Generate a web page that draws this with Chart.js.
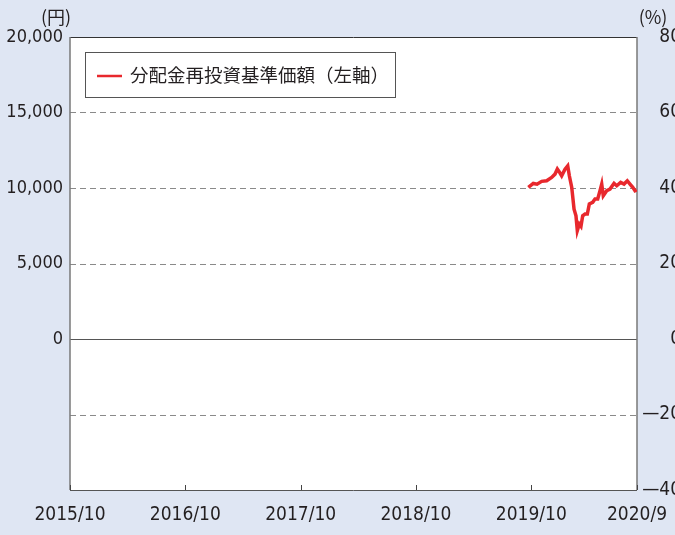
<!DOCTYPE html>
<html>
<head>
<meta charset="utf-8">
<script src="https://cdn.jsdelivr.net/npm/chart.js@4.4.1/dist/chart.umd.min.js"></script>
<style>
  html, body { margin: 0; padding: 0; overflow: hidden; background: #dfe6f3; }
  #wrap { width: 681px; height: 535px; }
</style>
</head>
<body>
<div id="wrap"><canvas id="navChart" width="681" height="535"></canvas></div>
<script>
// months counted from 2015/10 (0) to 2020/9 (59)
const tickMonths = [0, 12, 24, 36, 48, 59];
const tickLabels = ["2015/10", "2016/10", "2017/10", "2018/10", "2019/10", "2020/9"];

// 分配金再投資基準価額 (円)
const navMonths = [
  47.69, 48.21, 48.6, 49.08, 49.6, 50.12, 50.47, 50.71, 50.99, 51.16, 51.51,
  51.79, 51.96, 52.21, 52.45, 52.65, 52.79, 53.0, 53.17, 53.35, 53.59, 53.83,
  54.04, 54.39, 54.63, 54.91, 55.15, 55.33, 55.49, 55.85, 56.19, 56.61, 56.89,
  57.3, 57.65, 57.99, 58.27, 58.56, 58.79, 58.97,
];
const navValues = [
  10040, 10300, 10250, 10440, 10480, 10700, 10920, 11250, 10990, 10810, 11250,
  11470, 10810, 10040, 8600, 8160, 7170, 7610, 7460, 8160, 8275, 8275,
  8940, 9050, 9270, 9270, 9820, 10260, 9490, 9820, 9930, 10310, 10150,
  10370, 10260, 10480, 10260, 10040, 9820, 9880,
];

const leftTicks = [20000, 15000, 10000, 5000, 0, -5000, -10000];
const rightTickLabels = { 80: "80", 60: "60", 40: "40", 20: "20", 0: "0", "-20": "—20", "-40": "—40" };

const fontNum = "'DejaVu Sans Condensed', 'DejaVu Sans', sans-serif";
const fontJp = "'Noto Sans CJK JP', sans-serif";
const textColor = "#231f20";

// plot frame, grid lines and inner ticks
const framePlugin = {
  id: "frame",
  beforeDraw(chart) {
    const { ctx, chartArea: a } = chart;
    ctx.save();
    ctx.fillStyle = "#dfe6f3";
    ctx.fillRect(0, 0, chart.width, chart.height);
    ctx.fillStyle = "#ffffff";
    ctx.fillRect(a.left, a.top, a.right - a.left, a.bottom - a.top);
    ctx.restore();
  },
  beforeDatasetsDraw(chart) {
    const { ctx, chartArea: a, scales } = chart;
    const y = scales.y;
    const x = scales.x;
    ctx.save();
    leftTicks.forEach((v) => {
      if (v === 20000 || v === -10000) return;
      const py = Math.round(y.getPixelForValue(v)) + 0.5;
      ctx.beginPath();
      if (v === 0) {
        ctx.strokeStyle = "#555";
        ctx.lineWidth = 1.2;
        ctx.setLineDash([]);
      } else {
        ctx.strokeStyle = "#8a8a8a";
        ctx.lineWidth = 1;
        ctx.setLineDash([6, 4]);
      }
      ctx.moveTo(a.left, py);
      ctx.lineTo(a.right, py);
      ctx.stroke();
    });
    ctx.setLineDash([]);
    // frame
    ctx.lineWidth = 1;
    ctx.strokeStyle = "#333";
    ctx.beginPath();
    ctx.moveTo(a.left, a.top + 0.5);
    ctx.lineTo(a.right, a.top + 0.5);
    ctx.stroke();
    ctx.strokeStyle = "#555";
    ctx.beginPath();
    ctx.moveTo(a.left, a.bottom + 0.5);
    ctx.lineTo(a.right, a.bottom + 0.5);
    ctx.stroke();
    ctx.strokeStyle = "#7a7a7a";
    ctx.lineWidth = 1.5;
    ctx.beginPath();
    ctx.moveTo(a.left, a.top);
    ctx.lineTo(a.left, a.bottom);
    ctx.moveTo(a.right, a.top);
    ctx.lineTo(a.right, a.bottom);
    ctx.stroke();
    // inner ticks on the time axis
    ctx.lineWidth = 1;
    ctx.strokeStyle = "#444";
    tickMonths.forEach((m) => {
      const px = Math.round(x.getPixelForValue(m)) + 0.5;
      ctx.beginPath();
      ctx.moveTo(px, a.bottom);
      ctx.lineTo(px, a.bottom - 5);
      ctx.stroke();
    });
    ctx.restore();
  },
  afterDraw(chart) {
    const { ctx, chartArea: a } = chart;
    ctx.save();
    ctx.fillStyle = textColor;
    ctx.font = "18px " + fontJp;
    ctx.textBaseline = "middle";
    ctx.textAlign = "center";
    ctx.fillText("(円)", a.left - 14, 17);
    ctx.fillText("(%)", a.right + 16, 17);

    // legend box
    const ds = chart.data.datasets[0];
    const bx = a.left + 15, by = a.top + 15;
    ctx.fillStyle = "#ffffff";
    ctx.fillRect(bx, by, 310, 45);
    ctx.strokeStyle = "#555";
    ctx.lineWidth = 1;
    ctx.strokeRect(bx + 0.5, by + 0.5, 310, 45);
    ctx.strokeStyle = ds.borderColor;
    ctx.lineWidth = 2.5;
    ctx.beginPath();
    ctx.moveTo(bx + 12, by + 24);
    ctx.lineTo(bx + 37, by + 24);
    ctx.stroke();
    ctx.fillStyle = textColor;
    ctx.textAlign = "left";
    ctx.font = "18.5px " + fontJp;
    ctx.fillText(ds.label, bx + 45, by + 23);
    ctx.restore();
  },
};

const navChart = new Chart(document.getElementById("navChart"), {
  type: "line",
  data: {
    datasets: [
      {
        label: "分配金再投資基準価額（左軸）",
        data: navMonths.map((m, i) => ({ x: m, y: navValues[i] })),
        borderColor: "#e8282d",
        borderWidth: 3.5,
        pointRadius: 0,
        tension: 0,
        fill: false,
      },
    ],
  },
  options: {
    responsive: false,
    animation: false,
    layout: { padding: { top: 37, left: 0, right: 0, bottom: 0 } },
    plugins: {
      legend: { display: false },
      tooltip: { enabled: false },
    },
    scales: {
      x: {
        type: "linear",
        min: 0,
        max: 59,
        grid: { display: false, drawTicks: true, tickLength: 12 },
        border: { display: false },
        afterBuildTicks: (scale) => {
          scale.ticks = tickMonths.map((v) => ({ value: v }));
        },
        afterFit: (scale) => {
          scale.height = 45;
        },
        ticks: {
          autoSkip: false,
          maxRotation: 0,
          padding: 2,
          color: textColor,
          font: { family: fontNum, size: 19 },
          callback: (v) => tickLabels[tickMonths.indexOf(v)],
        },
      },
      y: {
        position: "left",
        min: -10000,
        max: 20000,
        grid: { display: false, drawTicks: false },
        border: { display: false },
        afterFit: (scale) => {
          scale.width = 70;
        },
        ticks: {
          stepSize: 5000,
          padding: 7,
          color: textColor,
          font: { family: fontNum, size: 18 },
          callback: (v) => (v < 0 ? "" : v.toLocaleString("en-US")),
        },
      },
      y2: {
        position: "right",
        min: -40,
        max: 80,
        grid: { display: false, drawTicks: false },
        border: { display: false },
        afterFit: (scale) => {
          scale.width = 44;
        },
        ticks: {
          stepSize: 20,
          crossAlign: "far",
          color: textColor,
          font: { family: fontNum, size: 19 },
          callback: (v) => rightTickLabels[v],
        },
      },
    },
  },
  plugins: [framePlugin],
});
</script>
</body>
</html>
